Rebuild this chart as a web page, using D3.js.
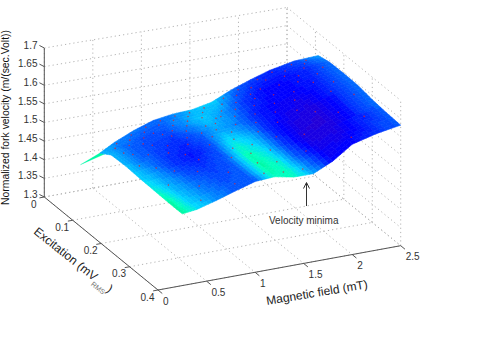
<!DOCTYPE html>
<html>
<head>
<meta charset="utf-8">
<script src="https://cdn.jsdelivr.net/npm/d3@7/dist/d3.min.js"></script>
<style>
html, body { margin: 0; padding: 0; background: #fff; }
svg { display: block; }
text { font-family: "Liberation Sans", Arial, sans-serif; }
</style>
</head>
<body>
<script>
// ticks
var fieldTicks = [0, 0.5, 1, 1.5, 2, 2.5];
var excitationTicks = [0, 0.1, 0.2, 0.3, 0.4];
var velocityTicks = [1.3, 1.35, 1.4, 1.45, 1.5, 1.55, 1.6, 1.65, 1.7];

// surface grid
var fieldValues = [0.25, 0.4, 0.6, 0.8, 1, 1.2, 1.4, 1.6, 1.8, 2, 2.25, 2.5];
var excitationValues = [0.11, 0.15, 0.2, 0.25, 0.3, 0.35, 0.4];
var velocity = [
  [1.475, 1.497, 1.52, 1.538, 1.546, 1.549, 1.56, 1.584, 1.603, 1.62, 1.634, 1.638],
  [1.495, 1.505, 1.522, 1.538, 1.546, 1.549, 1.558, 1.58, 1.6, 1.62, 1.638, 1.645],
  [1.497, 1.505, 1.52, 1.535, 1.545, 1.548, 1.553, 1.572, 1.592, 1.615, 1.636, 1.646],
  [1.495, 1.503, 1.518, 1.533, 1.545, 1.548, 1.55, 1.562, 1.583, 1.61, 1.634, 1.645],
  [1.494, 1.501, 1.516, 1.532, 1.545, 1.549, 1.546, 1.553, 1.575, 1.606, 1.628, 1.638],
  [1.493, 1.499, 1.514, 1.531, 1.545, 1.55, 1.543, 1.546, 1.57, 1.604, 1.624, 1.634],
  [1.493, 1.498, 1.513, 1.53, 1.546, 1.55, 1.54, 1.54, 1.565, 1.602, 1.62, 1.632]
];
// colour level of the surface at the same grid points
var level = [
  [3.5, 2.8, 2.6, 2.4, 2.8, 3.6, 4, 2.5, 1.8, 1.5, 2, 3.2],
  [3.6, 2.4, 2, 2.1, 3, 3.8, 3, 1.8, 1.1, 1.1, 1.5, 2.4],
  [3.6, 2.5, 1.8, 1.5, 2.2, 3.2, 2.8, 1.4, 0.9, 0.9, 1.4, 2.5],
  [3.9, 3, 1.6, 1.2, 2, 4.4, 3.6, 1.5, 0.6, 0.4, 1.4, 2.5],
  [4.6, 3.4, 2.2, 1.7, 2.2, 5.2, 4.2, 1.8, 0.3, 0.2, 1.4, 2.5],
  [5.5, 3.8, 2.6, 2, 2.2, 5.4, 4.8, 2.4, 0.6, 0.5, 1.4, 2.3],
  [5.6, 4.2, 3, 2.2, 2.2, 5, 5, 3.4, 1, 1.1, 1.6, 2.3]
];
// thin sliver out at the low field end
var sliverField = [0.05, 0.25, 0.27];
var sliverExcitation = [0.11, 0.11, 0.12];
var sliverVelocity = [1.453, 1.475, 1.478];

// measured points showing through the surface
var dotExcitation = [0.118, 0.13, 0.145, 0.16, 0.175, 0.195, 0.215, 0.24, 0.27, 0.3, 0.34, 0.38];
var dotField = [
  [0.4, 0.55, 0.7, 0.85, 1.0, 1.15, 1.3, 1.5, 1.65, 1.85, 2.0, 2.2, 2.35],
  [0.35, 0.5, 0.65, 0.8, 0.95, 1.1, 1.25, 1.45, 1.6, 1.75, 1.9, 2.1, 2.3],
  [0.45, 0.6, 0.7, 0.9, 1.05, 1.2, 1.4, 1.55, 1.7, 1.8, 2.05, 2.25],
  [0.35, 0.55, 0.75, 0.85, 1.0, 1.3, 1.35, 1.5, 1.7, 1.95, 2.15, 2.4],
  [0.4, 0.6, 0.8, 0.95, 1.15, 1.25, 1.45, 1.65, 1.85, 2.1, 2.3],
  [0.5, 0.7, 0.9, 1.05, 1.2, 1.4, 1.6, 1.8, 2.0, 2.2],
  [0.35, 0.65, 0.85, 1.1, 1.3, 1.55, 1.75, 1.95, 2.35],
  [0.45, 0.75, 1.0, 1.25, 1.5, 1.7, 1.9, 2.25],
  [0.55, 0.8, 1.15, 1.35, 1.6, 2.0, 2.4],
  [0.4, 0.7, 1.05, 1.25, 1.45, 1.8, 2.15],
  [0.6, 0.9, 1.2, 1.4, 1.7, 2.3],
  [0.5, 0.85, 1.15, 1.35, 1.55, 2.05]
];

var width = 491, height = 346;
var svg = d3.select("body").append("svg").attr("width", width).attr("height", height);

// oblique projection of the box
var origin = {x: 44.3, y: 197};
var bx = d3.scaleLinear().domain([0, 2.5]).range([0, 242.7]);
var by = d3.scaleLinear().domain([0, 2.5]).range([0, -44.3]);
var ex = d3.scaleLinear().domain([0, 0.4]).range([0, 113.7]);
var ey = d3.scaleLinear().domain([0, 0.4]).range([0, 93]);
var zy = d3.scaleLinear().domain([1.3, 1.7]).range([0, 1]);

function project(b, e, z) {
  var zh = 149 - 1.5 * b; // slight perspective in the vertical
  return [origin.x + bx(b) + ex(e), origin.y + by(b) + ey(e) - zy(z) * zh];
}

var gridColor = "#b4b4b4";
var axisColor = "#555";
var textColor = "#333";

function seg(g, p, q, color, dash, w) {
  g.append("line")
    .attr("x1", p[0]).attr("y1", p[1])
    .attr("x2", q[0]).attr("y2", q[1])
    .attr("stroke", color)
    .attr("stroke-width", w || 1)
    .attr("stroke-dasharray", dash || null);
}

// walls and floor
var grid = svg.append("g").attr("class", "grid");
var dots = "1.2,3";
velocityTicks.forEach(function(z) {
  seg(grid, project(0, 0, z), project(2.5, 0, z), gridColor, dots);
  seg(grid, project(2.5, 0, z), project(2.5, 0.4, z), gridColor, dots);
});
fieldTicks.forEach(function(b) {
  seg(grid, project(b, 0, 1.3), project(b, 0, 1.7), gridColor, dots);
  seg(grid, project(b, 0, 1.3), project(b, 0.4, 1.3), gridColor, dots);
});
excitationTicks.forEach(function(e) {
  seg(grid, project(2.5, e, 1.3), project(2.5, e, 1.7), gridColor, dots);
  seg(grid, project(0, e, 1.3), project(2.5, e, 1.3), gridColor, dots);
});

// surface
var levelColor = d3.scaleLinear()
  .domain([0, 1, 2, 3, 4, 5, 6])
  .range(["#2a00d0", "#0000ff", "#0048ff", "#0094ff", "#00d8ff", "#00ffc0", "#00f080"])
  .clamp(true);

function bilerp(t, r, s, i, j) {
  return d3.interpolateNumber(
    d3.interpolateNumber(t[i][j], t[i][j + 1])(s),
    d3.interpolateNumber(t[i + 1][j], t[i + 1][j + 1])(s)
  )(r);
}

var surf = svg.append("g").attr("class", "surface");
var quadPath = d3.line();
var steps = 5;

surf.append("path")
  .attr("d", quadPath(sliverField.map(function(b, i) {
    return project(b, sliverExcitation[i], sliverVelocity[i]);
  })) + "Z")
  .attr("fill", levelColor(5.4))
  .attr("stroke", levelColor(5.4))
  .attr("stroke-width", 0.3);

// back to front so nearer cells cover farther ones
for (var i = 0; i < excitationValues.length - 1; i++) {
  for (var j = fieldValues.length - 2; j >= 0; j--) {
    for (var u = 0; u < steps; u++) {
      for (var v = steps - 1; v >= 0; v--) {
        var corners = [[u, v], [u, v + 1], [u + 1, v + 1], [u + 1, v]].map(function(c) {
          var r = c[0] / steps, s = c[1] / steps;
          return project(
            fieldValues[j] + (fieldValues[j + 1] - fieldValues[j]) * s,
            excitationValues[i] + (excitationValues[i + 1] - excitationValues[i]) * r,
            bilerp(velocity, r, s, i, j));
        });
        var l = bilerp(level, (u + 0.5) / steps, (v + 0.5) / steps, i, j);
        var col = levelColor(Math.round(l * 5) / 5);
        surf.append("path")
          .attr("d", quadPath(corners) + "Z")
          .attr("fill", col)
          .attr("stroke", col)
          .attr("stroke-width", 0.6);
      }
    }
  }
}

// measured points
function surfaceAt(b, e) {
  var i = Math.min(d3.bisectRight(excitationValues, e) - 1, excitationValues.length - 2);
  var j = Math.min(d3.bisectRight(fieldValues, b) - 1, fieldValues.length - 2);
  var r = (e - excitationValues[i]) / (excitationValues[i + 1] - excitationValues[i]);
  var s = (b - fieldValues[j]) / (fieldValues[j + 1] - fieldValues[j]);
  return bilerp(velocity, r, s, i, j);
}
var dotData = [];
dotExcitation.forEach(function(e, i) {
  dotField[i].forEach(function(b) {
    dotData.push(project(b, e, surfaceAt(b, e)));
  });
});
svg.append("g").selectAll("circle").data(dotData).enter().append("circle")
  .attr("cx", function(d) { return d[0]; })
  .attr("cy", function(d) { return d[1]; })
  .attr("r", 0.8)
  .attr("fill", "#e02030")
  .attr("opacity", 0.75);

// axes
var axes = svg.append("g").attr("class", "axes");
seg(axes, project(0, 0, 1.3), project(0, 0, 1.7), axisColor);
seg(axes, project(0, 0, 1.3), project(0, 0.4, 1.3), axisColor);
seg(axes, project(0, 0.4, 1.3), project(2.5, 0.4, 1.3), axisColor);

function tickText(p, str, anchor) {
  axes.append("text")
    .attr("x", p[0]).attr("y", p[1])
    .attr("text-anchor", anchor)
    .attr("font-size", 10)
    .attr("fill", textColor)
    .text(str);
}

velocityTicks.forEach(function(z) {
  var p = project(0, 0, z);
  seg(axes, p, project(-0.015, -0.012, z), axisColor);
  tickText([37.5, p[1] + 0.8], String(z), "end");
});
excitationTicks.forEach(function(e) {
  var p = project(0, e, 1.3);
  seg(axes, p, project(-0.05, e, 1.3), axisColor);
  tickText([p[0] - 10.5, p[1] + 10.5], String(e), "middle");
});
fieldTicks.forEach(function(b) {
  var p = project(b, 0.4, 1.3);
  seg(axes, p, project(b, 0.415, 1.3), axisColor);
  tickText([p[0] + 5, p[1] + 14.5], String(b), "start");
});

// axis titles
svg.append("text")
  .attr("transform", "translate(9,205) rotate(-90)")
  .attr("font-size", 10.4)
  .attr("fill", "#111")
  .text("Normalized fork velocity (m/(sec.Volt))");

var exLabel = svg.append("text")
  .attr("transform", "translate(33,233) rotate(38.5)")
  .attr("font-size", 12)
  .attr("fill", "#222");
exLabel.append("tspan").text("Excitation (mV");
exLabel.append("tspan").attr("dy", 5).attr("font-size", 7).attr("fill", "#777").text("RMS");
exLabel.append("tspan").attr("dy", -5).text(")");

svg.append("text")
  .attr("transform", "translate(267,305) rotate(-9.5)")
  .attr("font-size", 12)
  .attr("fill", "#222")
  .text("Magnetic field (mT)");

// annotation
var note = svg.append("g").attr("class", "note");
seg(note, [306.5, 206], [306.5, 183], "#333");
seg(note, [306.5, 182.5], [303.5, 188.5], "#333");
seg(note, [306.5, 182.5], [309.5, 188.5], "#333");
note.append("text")
  .attr("x", 269).attr("y", 224)
  .attr("font-size", 10)
  .attr("fill", textColor)
  .text("Velocity minima");
</script>
</body>
</html>
